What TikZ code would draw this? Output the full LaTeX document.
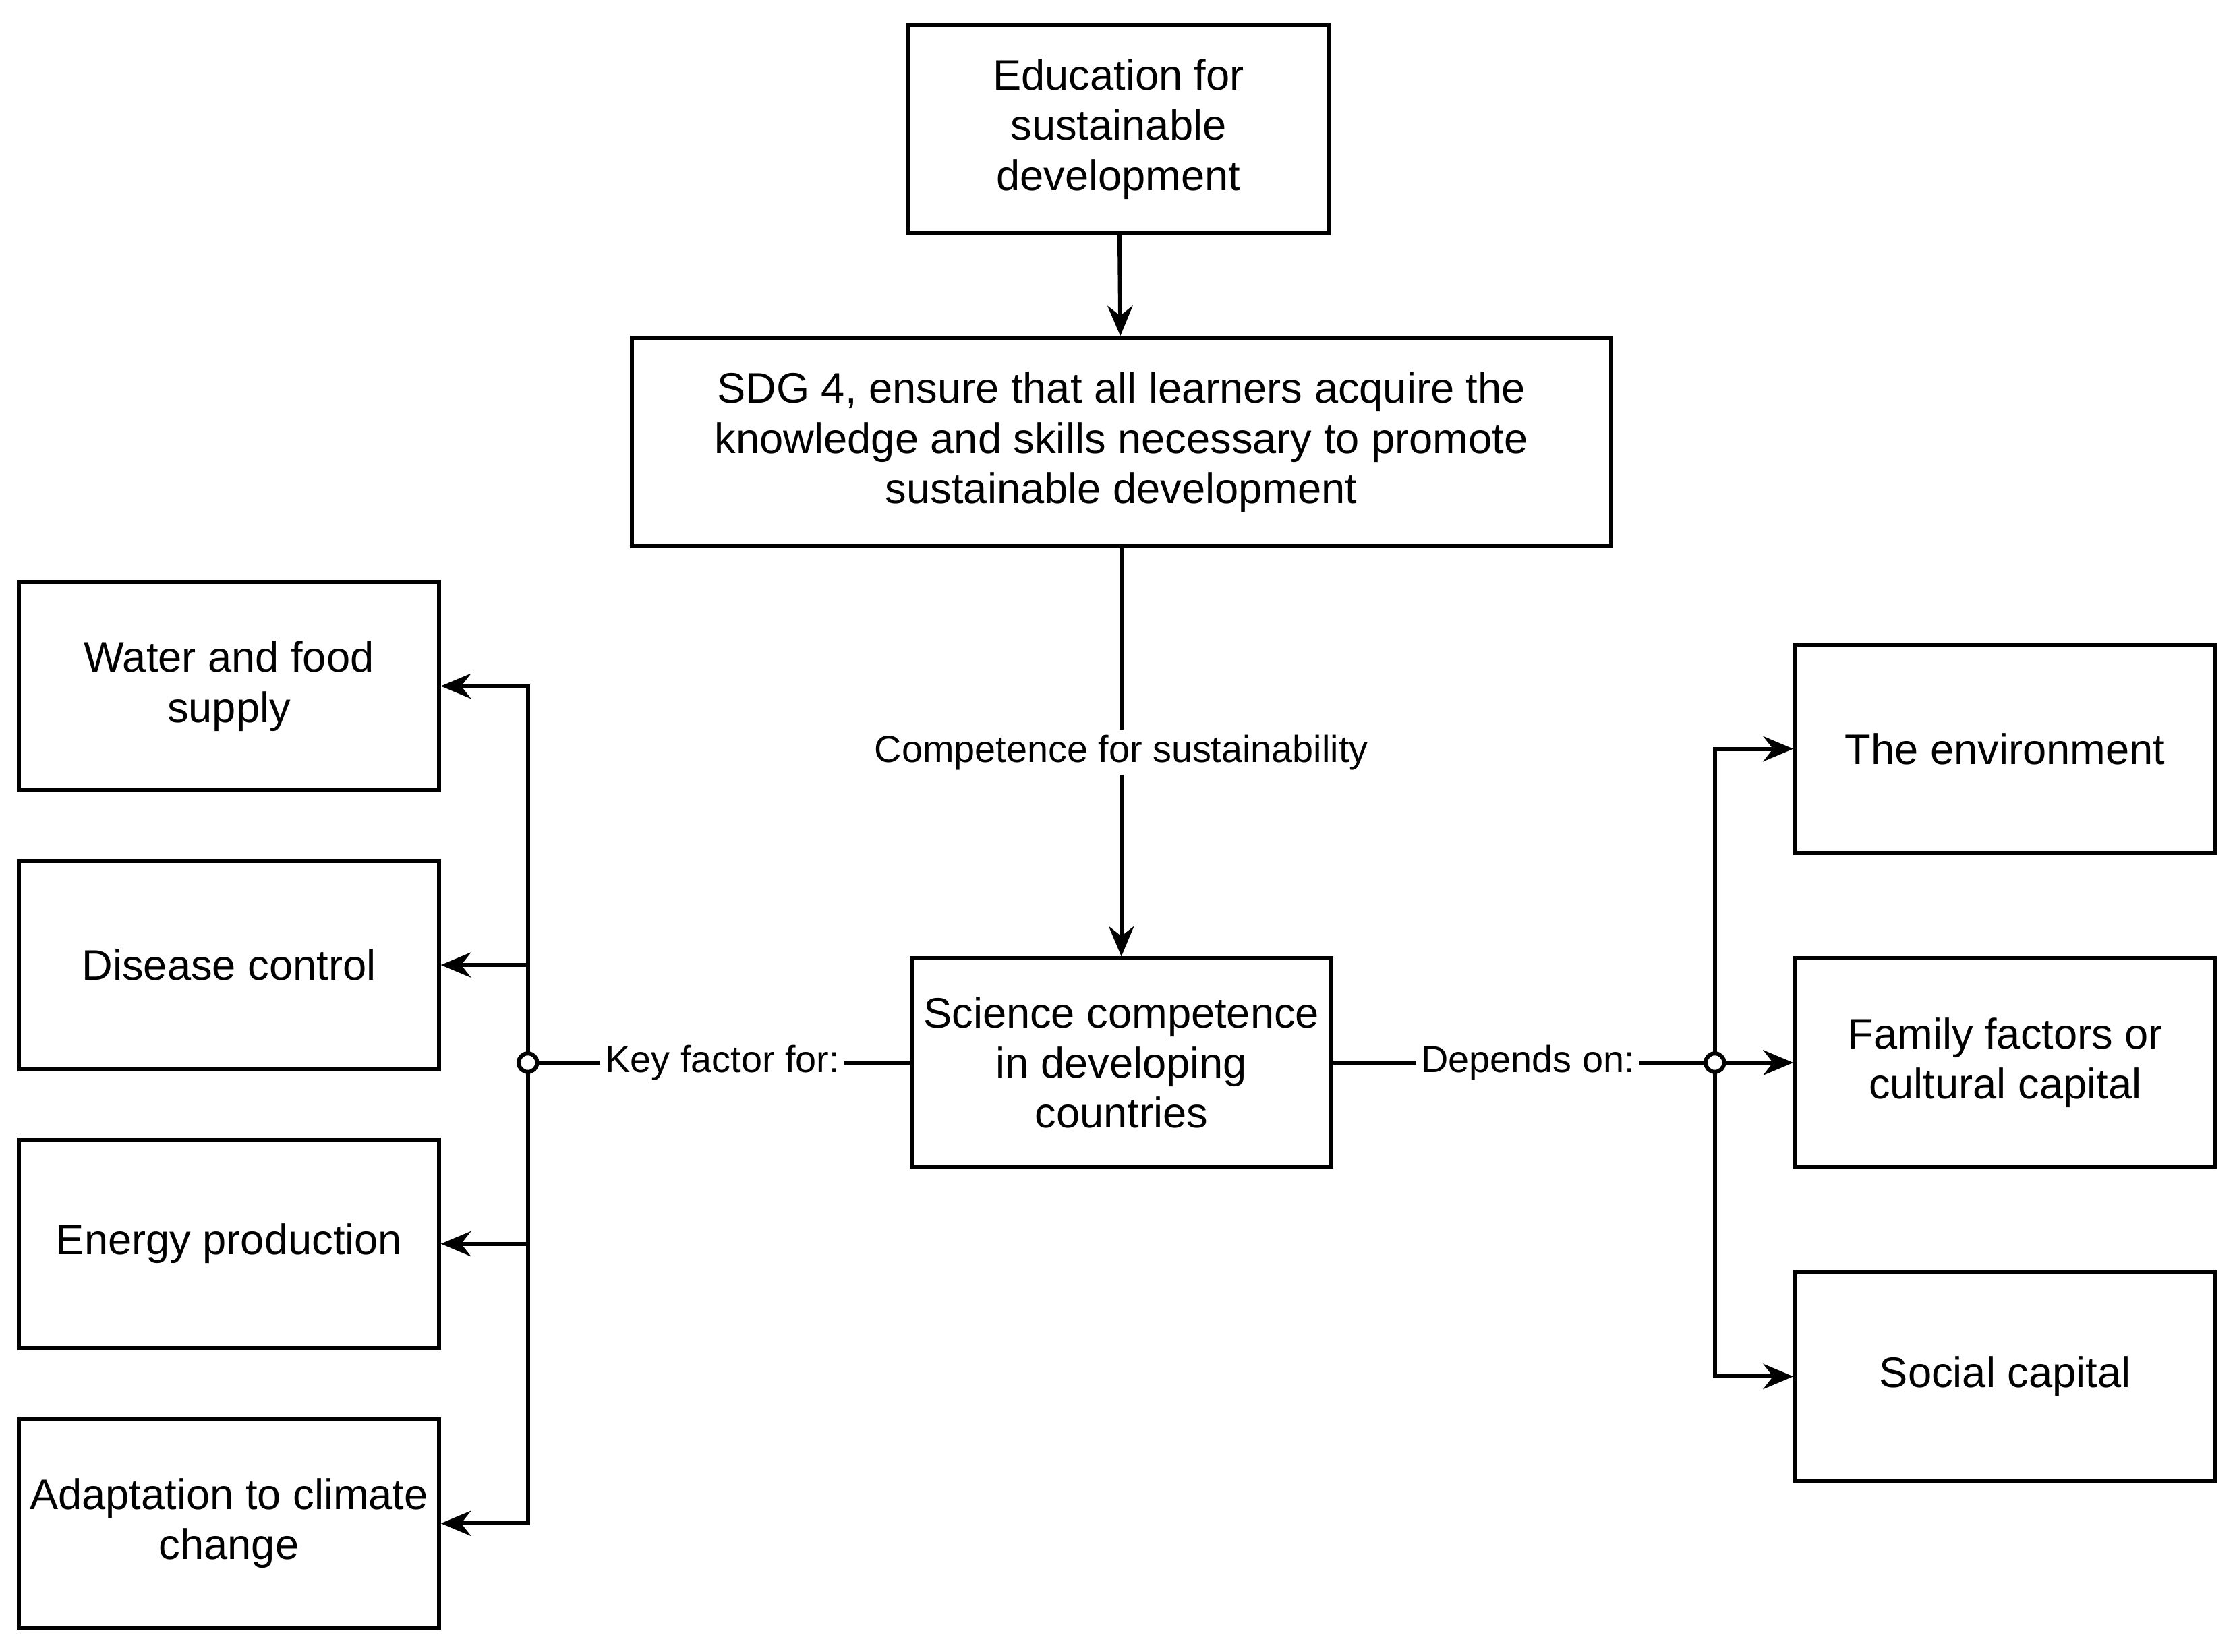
\documentclass[tikz,border=0pt]{standalone}
\usepackage{fontspec}
\setmainfont{Liberation Sans}
\usetikzlibrary{arrows.meta}
\begin{document}
\begin{tikzpicture}[x=0.01cm,y=-0.01cm,
    box/.style={draw,thick,minimum width=2.94cm,minimum height=1.46cm,align=center,font=\fontsize{8.5}{10}\selectfont,inner sep=1pt},
    lbl/.style={fill=white,inner sep=1pt,font=\fontsize{7.5}{9}\selectfont},
    arr/.style={thick,-{Stealth[length=6pt,width=5pt]}}]
  \useasboundingbox (0,0) rectangle (1568,1158);
  \begin{scope}[every node/.style={box}]
    \node (edu) at (784,90.5) {Education for\\sustainable\\development};
    \node[minimum width=6.86cm] (sdg) at (786,310) {SDG 4, ensure that all learners acquire the\\knowledge and skills necessary to promote\\sustainable development};
    \node (sci) at (786,745) {Science competence\\in developing\\countries};
    \node (water) at (160.5,481) {Water and food\\supply};
    \node (disease) at (160.5,676.5) {Disease control};
    \node (energy) at (160.5,872) {Energy production};
    \node (climate) at (160.5,1068) {Adaptation to climate\\change};
    \node (env) at (1405.5,525) {The environment};
    \node (family) at (1405.5,745) {Family factors or\\cultural capital};
    \node (social) at (1405.5,965) {Social capital};
  \end{scope}
  \coordinate (lhub) at (370,745);
  \coordinate (rhub) at (1202,745);
  \draw[arr] (edu) -- (sdg);
  \draw[arr] (sdg) -- node[lbl,pos=0.5] {Competence for sustainability} (sci);
  \draw[thick] (sci) -- node[lbl,pos=0.49] {Key factor for:} (lhub);
  \draw[thick] (sci) -- node[lbl,pos=0.51] {Depends on:} (rhub);
  \foreach \t in {water,disease,energy,climate}
    \draw[arr] (lhub) |- (\t);
  \foreach \t in {env,family,social}
    \draw[arr] (rhub) |- (\t);
  \draw[thick,fill=white] (lhub) circle (6.5);
  \draw[thick,fill=white] (rhub) circle (6.5);
\end{tikzpicture}
\end{document}
